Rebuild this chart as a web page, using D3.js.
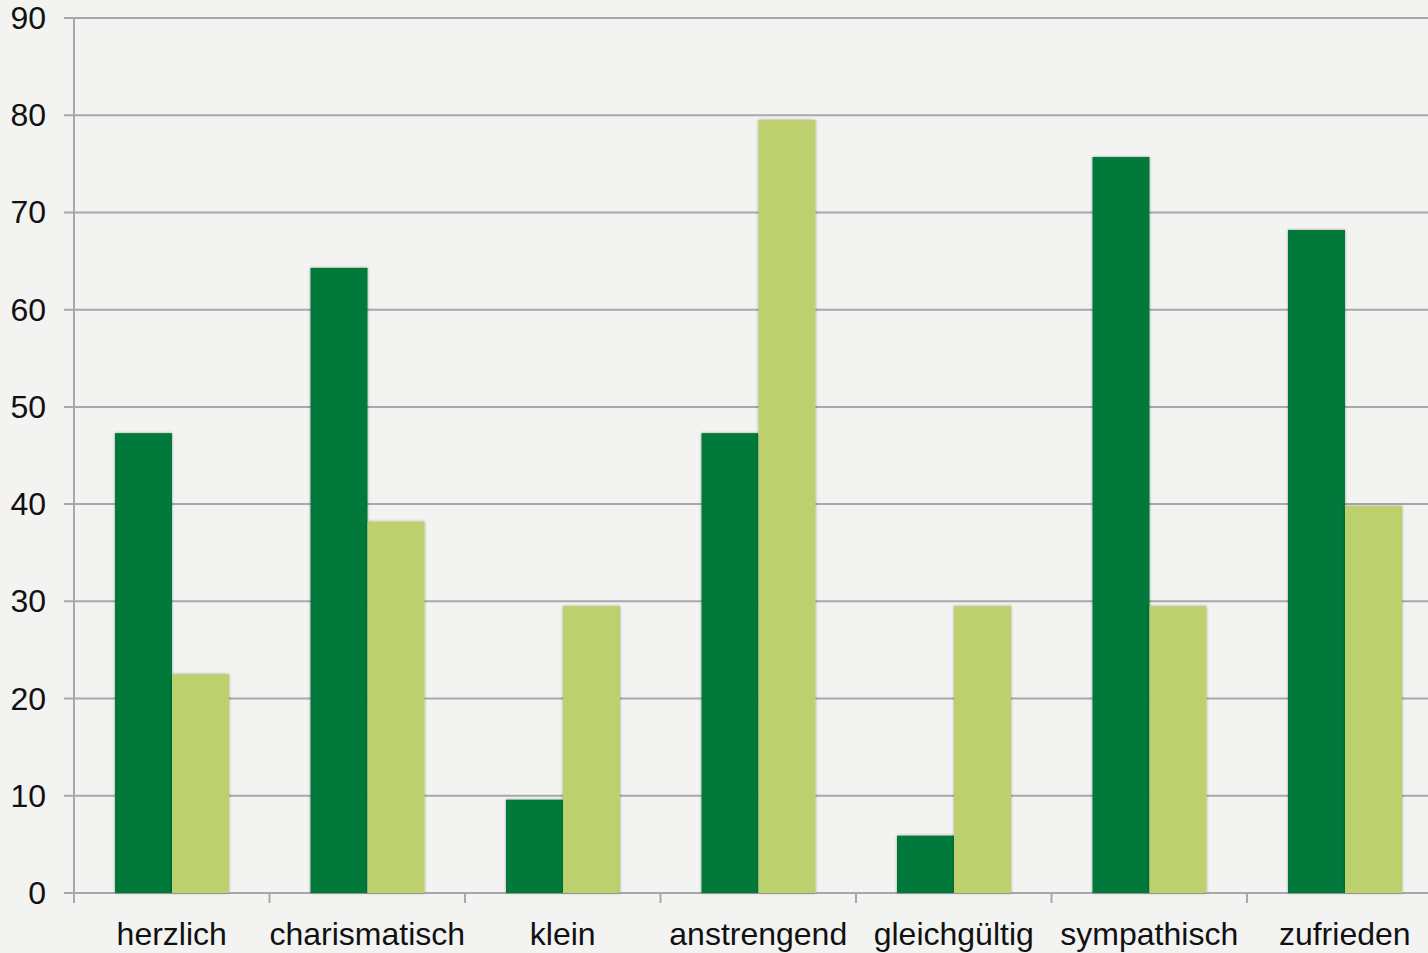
<!DOCTYPE html>
<html>
<head>
<meta charset="utf-8">
<script src="https://cdn.jsdelivr.net/npm/d3@7"></script>
<style>
  body { margin: 0; background: #f3f3f1; }
  svg { display: block; }
</style>
</head>
<body>
<div id="chart"></div>
<script>
var categories = ["herzlich", "charismatisch", "klein", "anstrengend", "gleichgültig", "sympathisch", "zufrieden"];
var series1 = [47.3, 64.3, 9.6, 47.3, 5.9, 75.7, 68.2];
var series2 = [22.5, 38.2, 29.5, 79.5, 29.5, 29.5, 39.8];
var yTicks = [0, 10, 20, 30, 40, 50, 60, 70, 80, 90];

var W = 1428, H = 953;
var svg = d3.select("#chart").append("svg")
    .attr("width", W)
    .attr("height", H);

svg.append("rect").attr("width", W).attr("height", H).attr("fill", "#f3f3f1");

var defs = svg.append("defs");
var f = defs.append("filter").attr("id", "shadow")
    .attr("x", "-10%").attr("y", "-5%").attr("width", "120%").attr("height", "110%");
f.append("feGaussianBlur").attr("in", "SourceAlpha").attr("stdDeviation", 1.5).attr("result", "b");
f.append("feComponentTransfer").attr("in", "b").attr("result", "s")
  .append("feFuncA").attr("type", "linear").attr("slope", 0.35);
var fm = f.append("feMerge");
fm.append("feMergeNode").attr("in", "s");
fm.append("feMergeNode").attr("in", "SourceGraphic");

var x0 = 74, y0 = 893;
var groupW = 195.5;

var y = d3.scaleLinear().domain([0, 90]).range([y0, 18]);
var x = d3.scaleBand().domain(categories).range([x0, x0 + groupW * categories.length]).padding(0);
var xs = d3.scaleBand().domain([0, 1]).range([41, 155]).padding(0);

// gridlines
svg.append("g").selectAll("line").data(yTicks).enter().append("line")
    .attr("x1", 64).attr("x2", W)
    .attr("y1", function(d) { return y(d); })
    .attr("y2", function(d) { return y(d); })
    .attr("stroke", "#a8a8a8").attr("stroke-width", 2);

// y axis line
svg.append("line").attr("x1", x0).attr("x2", x0).attr("y1", y(90)).attr("y2", y0 + 10)
    .attr("stroke", "#a8a8a8").attr("stroke-width", 2);

// x ticks
var bounds = categories.map(function(c) { return x(c); });
svg.append("g").selectAll("line").data(bounds).enter().append("line")
    .attr("x1", function(d) { return d; }).attr("x2", function(d) { return d; })
    .attr("y1", y0).attr("y2", y0 + 10)
    .attr("stroke", "#a8a8a8").attr("stroke-width", 2);

// bars
var g = svg.append("g").selectAll("g").data(categories).enter().append("g")
    .attr("transform", function(c) { return "translate(" + x(c) + ",0)"; });

g.append("rect")
    .attr("x", xs(0)).attr("width", xs.bandwidth())
    .attr("y", function(c, i) { return y(series1[i]); })
    .attr("height", function(c, i) { return y0 - y(series1[i]); })
    .attr("fill", "#00793a").attr("filter", "url(#shadow)");

g.append("rect")
    .attr("x", xs(1)).attr("width", xs.bandwidth())
    .attr("y", function(c, i) { return y(series2[i]); })
    .attr("height", function(c, i) { return y0 - y(series2[i]); })
    .attr("fill", "#bdd06e").attr("filter", "url(#shadow)");

// y labels
svg.append("g").selectAll("text").data(yTicks).enter().append("text")
    .attr("x", 46).attr("y", function(d) { return y(d) + 11; })
    .attr("text-anchor", "end")
    .attr("font-family", "Liberation Sans, Arial, sans-serif")
    .attr("font-size", 32).attr("fill", "#111")
    .text(function(d) { return d; });

// x labels
svg.append("g").selectAll("text").data(categories).enter().append("text")
    .attr("x", function(c) { return x(c) + x.bandwidth() / 2; })
    .attr("y", 945)
    .attr("text-anchor", "middle")
    .attr("font-family", "Liberation Sans, Arial, sans-serif")
    .attr("font-size", 32).attr("fill", "#111")
    .text(function(c) { return c; });
</script>
</body>
</html>
